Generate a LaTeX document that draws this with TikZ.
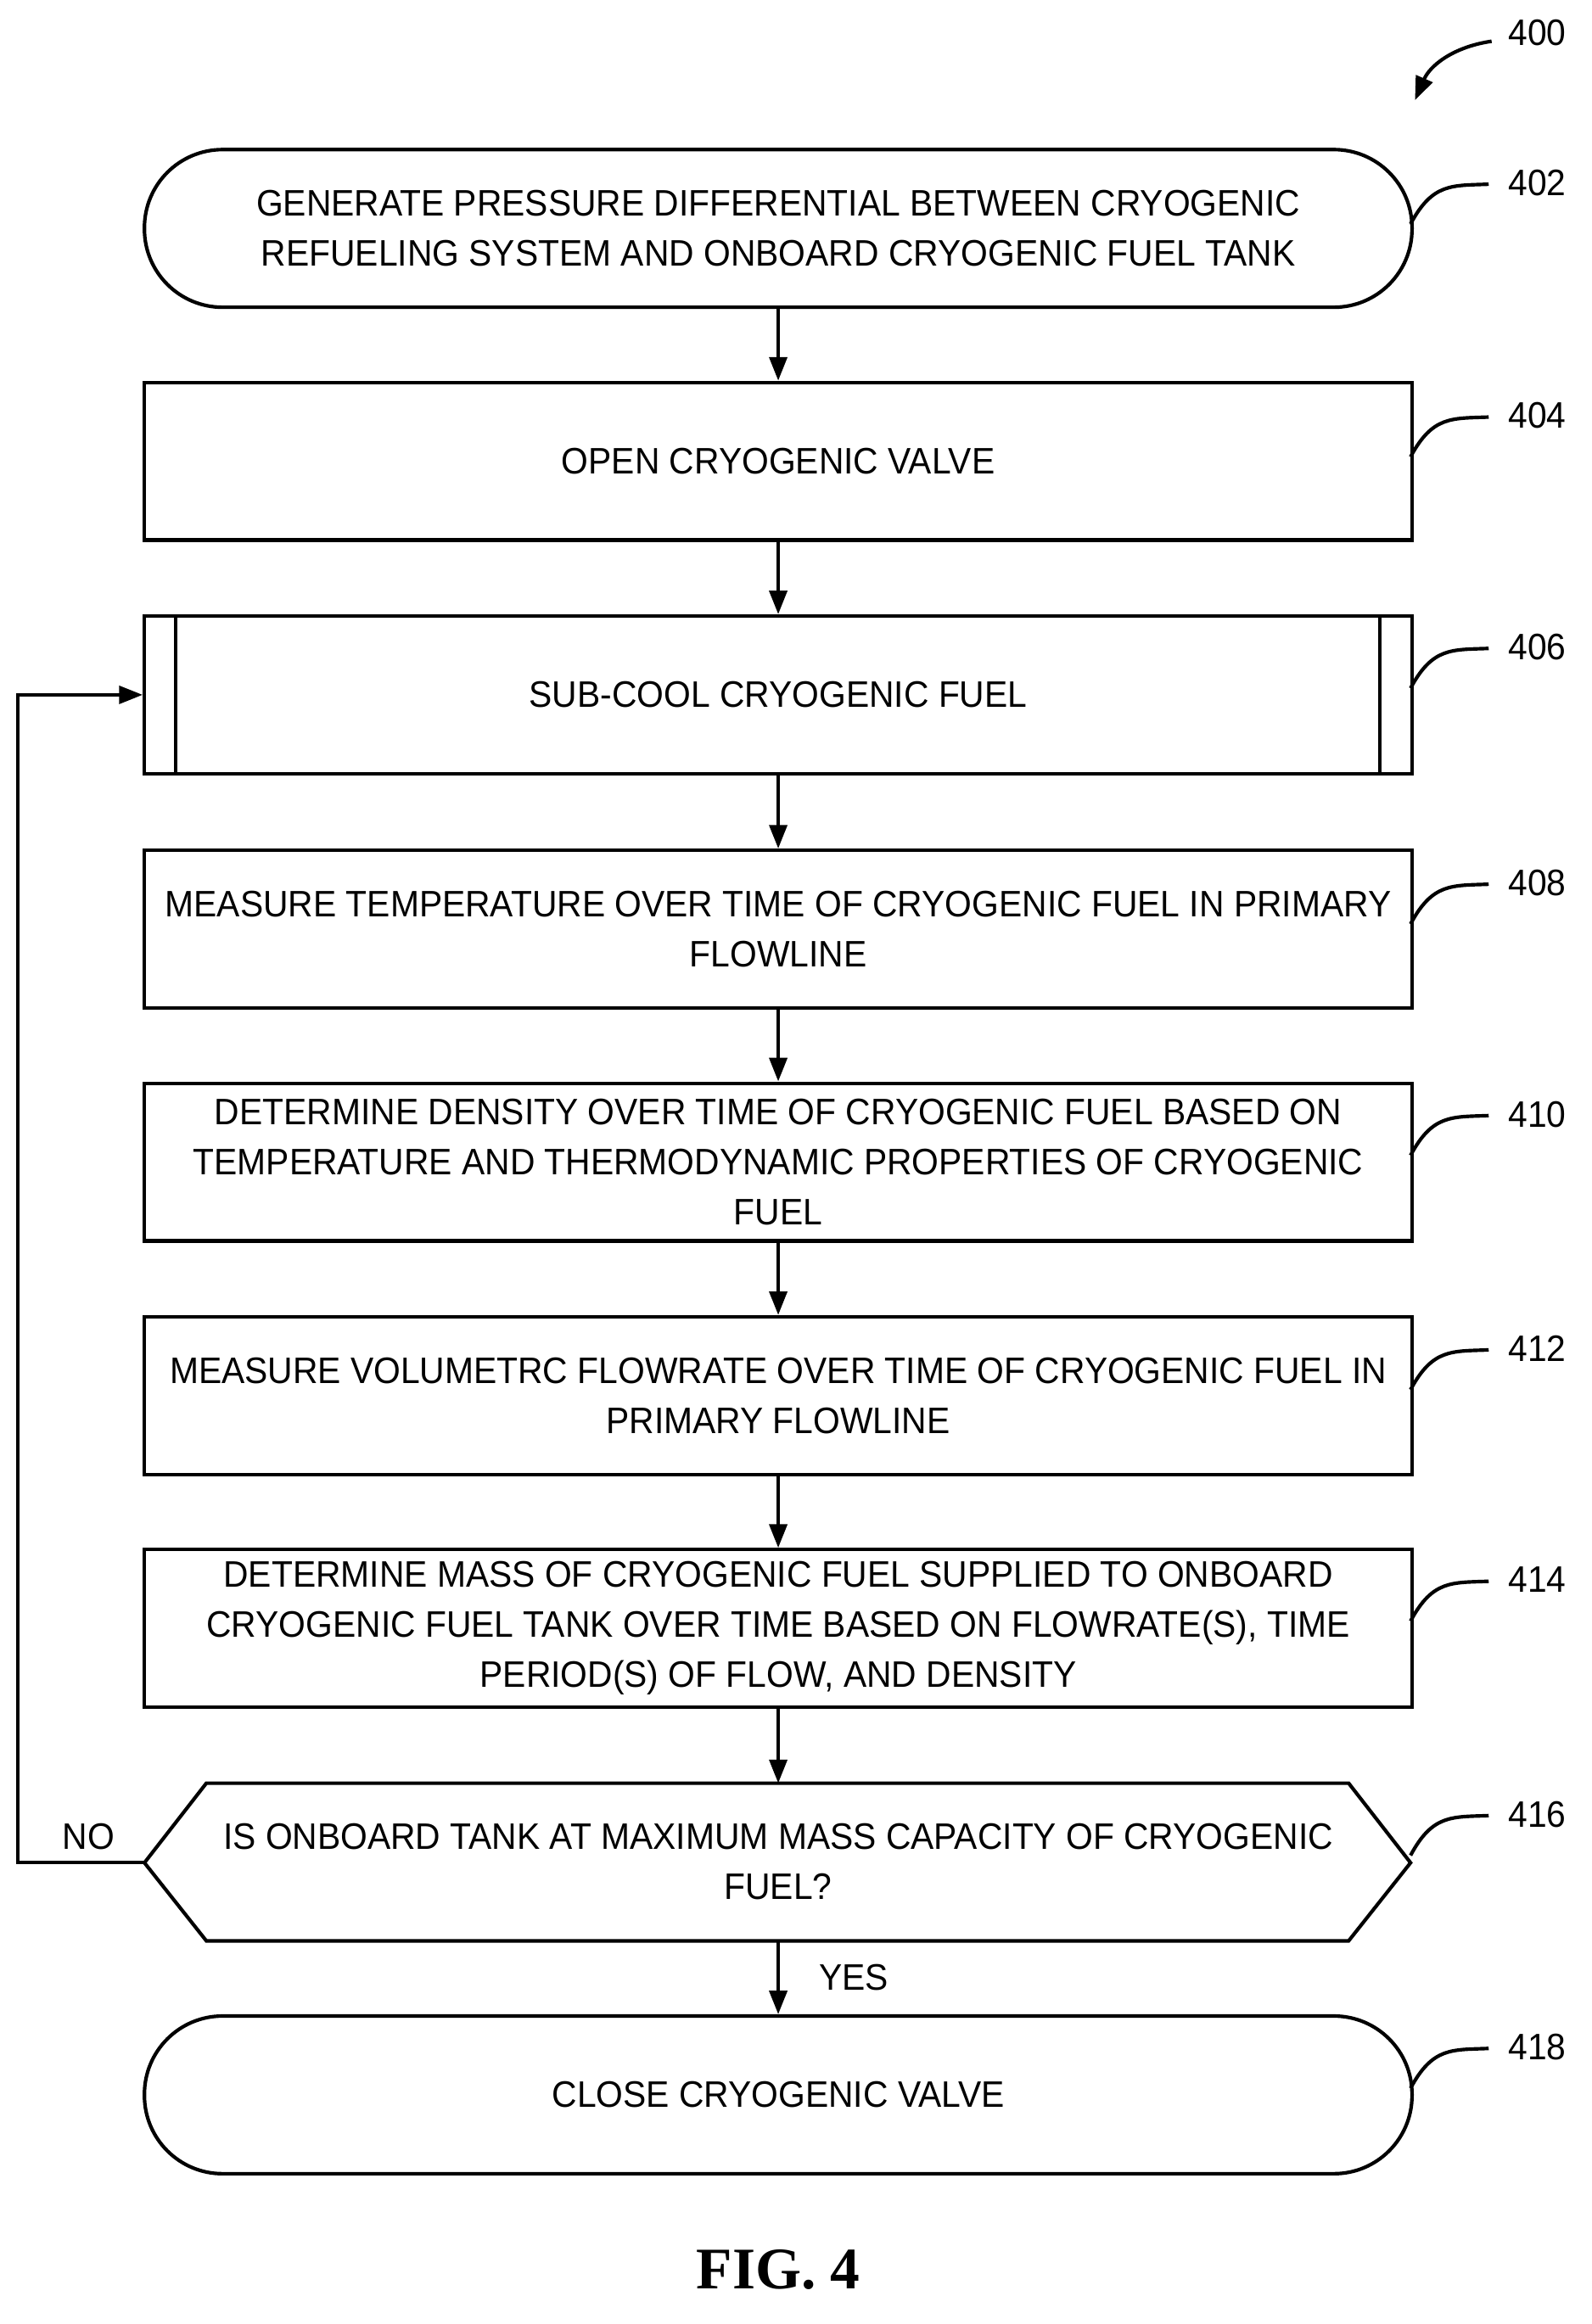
\documentclass[tikz,border=0pt]{standalone}
\usepackage{fontspec}
\setmainfont{Liberation Sans}[FakeStretch=0.94]
\usetikzlibrary{arrows.meta}
\begin{document}
\begin{tikzpicture}[x=0.5pt,y=-0.5pt,
  box/.style={draw,line width=1.2pt,minimum width=430pt,minimum height=53.5pt,inner sep=0pt,align=center,font=\fontsize{12.5}{17}\selectfont},
  stad/.style={box,rounded corners=26.5pt},
  arr/.style={-{Triangle[length=8pt,width=6pt]},line width=1.2pt},
  lead/.style={line width=1.2pt},
  lab/.style={font=\fontsize{12.5}{17}\selectfont}]
\useasboundingbox (0,0) rectangle (1080,1577);
\node[stad] (n402) at (528,155) {GENERATE PRESSURE DIFFERENTIAL BETWEEN CRYOGENIC\\REFUELING SYSTEM AND ONBOARD CRYOGENIC FUEL TANK};
\node[box] (n404) at (528,313) {OPEN CRYOGENIC VALVE};
\node[box] (n406) at (528,471.5) {SUB-COOL CRYOGENIC FUEL};
\draw[line width=1.2pt] (119,418) -- (119,525) (936,418) -- (936,525);
\node[box] (n408) at (528,630.5) {MEASURE TEMPERATURE OVER TIME OF CRYOGENIC FUEL IN PRIMARY\\FLOWLINE};
\node[box] (n410) at (528,788.5) {DETERMINE DENSITY OVER TIME OF CRYOGENIC FUEL BASED ON\\TEMPERATURE AND THERMODYNAMIC PROPERTIES OF CRYOGENIC\\FUEL};
\node[box] (n412) at (528,947) {MEASURE VOLUMETRC FLOWRATE OVER TIME OF CRYOGENIC FUEL IN\\PRIMARY FLOWLINE};
\node[box] (n414) at (528,1105) {DETERMINE MASS OF CRYOGENIC FUEL SUPPLIED TO ONBOARD\\CRYOGENIC FUEL TANK OVER TIME BASED ON FLOWRATE(S), TIME\\PERIOD(S) OF FLOW, AND DENSITY};
\draw[line width=1.2pt] (98,1264) -- (140,1210) -- (915,1210) -- (957,1264) -- (915,1317) -- (140,1317) -- cycle;
\node[lab,align=center] (n416) at (528,1263) {IS ONBOARD TANK AT MAXIMUM MASS CAPACITY OF CRYOGENIC\\FUEL?};
\coordinate (d416t) at (528,1210);
\coordinate (d416b) at (528,1317);
\coordinate (d416l) at (98,1264);
\node[stad] (n418) at (528,1421.5) {CLOSE CRYOGENIC VALVE};
\draw[arr] (n402) -- (n404);
\draw[arr] (n404) -- (n406);
\draw[arr] (n406) -- (n408);
\draw[arr] (n408) -- (n410);
\draw[arr] (n410) -- (n412);
\draw[arr] (n412) -- (n414);
\draw[arr] (n414) -- (d416t);
\draw[arr] (d416b) -- (n418) node[lab,midway,right=10pt] {YES};
\coordinate (c1) at (12,1264);
\coordinate (c2) at (12,471.5);
\draw[arr] (d416l) -- (c1) -- (c2) -- (n406.west);
\node[lab] (no) at (60,1246) {NO};
\foreach \n/\y in {402/124,404/282,406/439,408/599,410/756,412/915,414/1072,416/1231,418/1389}{
  \node[lab] (l\n) at (1043,\y) {\n};
  \draw[lead] (957,\y+28) .. controls (972,\y) and (985,\y+2) .. (1010,\y+1);
}
\node[lab] (l400) at (1043,22) {400};
\draw[arr] (1012,28) .. controls (985,32) and (970,45) .. (960,68);
\node[font=\fontsize{20}{24}\bfseries\fontspec{Liberation Serif}] (fig) at (528,1540) {FIG. 4};
\end{tikzpicture}
\end{document}
